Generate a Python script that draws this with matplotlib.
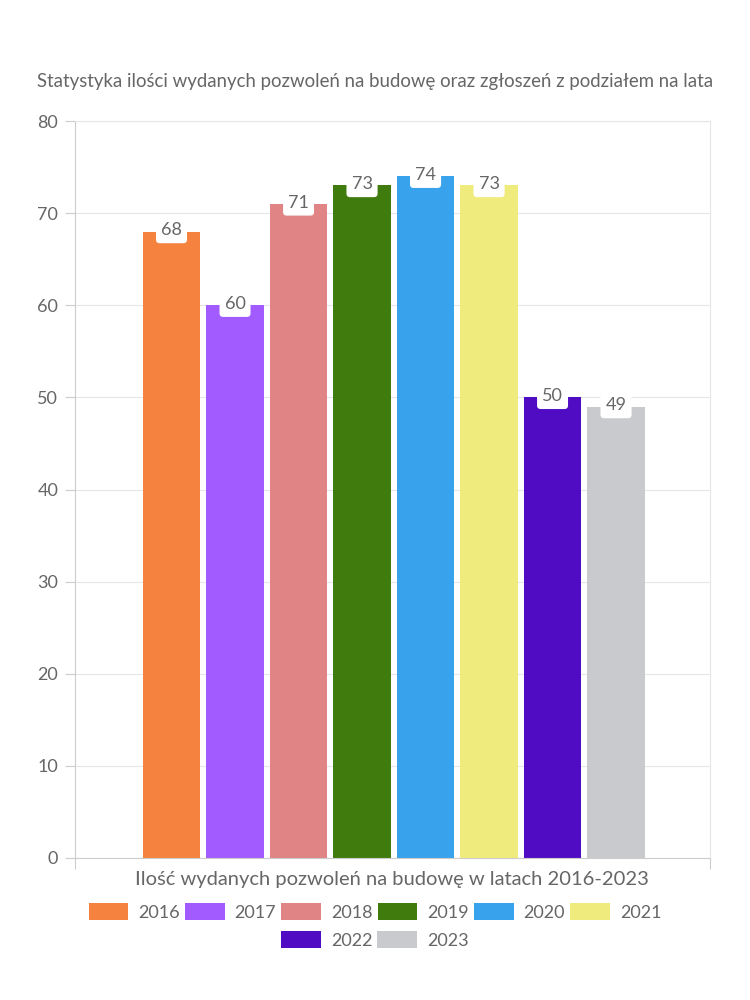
import matplotlib
matplotlib.use("Agg")
import matplotlib.pyplot as plt
from matplotlib.patches import Patch

plt.rcParams['font.family'] = ['Lato', 'DejaVu Sans']

years = ["2016", "2017", "2018", "2019", "2020", "2021", "2022", "2023"]
values = [68, 60, 71, 73, 74, 73, 50, 49]
colors = ["#F5833F", "#A15BFE", "#E08486", "#407C0D", "#38A2EC", "#F0EB7D", "#500CC3", "#C9CACD"]
title = "Statystyka ilości wydanych pozwoleń na budowę oraz zgłoszeń z podziałem na lata"
xlabel = "Ilość wydanych pozwoleń na budowę w latach 2016-2023"
yticks = [0, 10, 20, 30, 40, 50, 60, 70, 80]

TXT = "#666666"
GRID = "#e6e6e6"

fig = plt.figure(figsize=(7.5, 10), dpi=100)
ax = fig.add_axes([0.1, 0.142, 0.8467, 0.737])

pos = list(range(len(values)))
ax.bar(pos, values, width=0.9, color=colors, zorder=2)

for p, v in zip(pos, values):
    ax.annotate(str(v), (p, v), xytext=(0, 1.0), textcoords="offset points",
                ha="center", va="center", fontsize=13, color=TXT, zorder=4,
                bbox=dict(boxstyle="round,pad=0.28,rounding_size=0.2", fc="white", ec="none"))

ax.set_xlim(-1.52, 8.48)
ax.set_ylim(0, 80)
ax.set_yticks(yticks)
ax.set_yticklabels([str(t) for t in yticks], fontsize=13, color=TXT)
ax.set_xticks([-1.52, 8.48])
ax.set_xticklabels(["", ""])
ax.tick_params(axis="y", length=7, color="#cccccc", pad=5)
ax.tick_params(axis="x", length=8, color="#cccccc")
ax.grid(axis="y", color=GRID, lw=0.8, zorder=0)
for s in ["top", "right"]:
    ax.spines[s].set_color(GRID)
    ax.spines[s].set_linewidth(0.8)
ax.spines["left"].set_color("#cccccc")
ax.spines["bottom"].set_color("#cccccc")
ax.spines["left"].set_linewidth(0.8)
ax.spines["bottom"].set_linewidth(0.8)

fig.text(0.5, 0.919, title, ha="center", va="center", fontsize=13.4, color=TXT)
fig.text(0.523, 0.12, xlabel, ha="center", va="center", fontsize=14.5, color=TXT)

handles = [Patch(facecolor=c, edgecolor="none") for c in colors]
leg_kw = dict(frameon=False, fontsize=13, handlelength=2.2, handleheight=1.0,
              handletextpad=0.55, columnspacing=0.28, labelcolor=TXT, borderaxespad=0)
leg1 = fig.legend(handles[:6], years[:6], ncol=6, loc="center",
                  bbox_to_anchor=(0.5, 0.088), **leg_kw)
leg2 = fig.legend(handles[6:], years[6:], ncol=2, loc="center",
                  bbox_to_anchor=(0.5, 0.060), **leg_kw)

fig.savefig("out.png", dpi=100, facecolor="white")
